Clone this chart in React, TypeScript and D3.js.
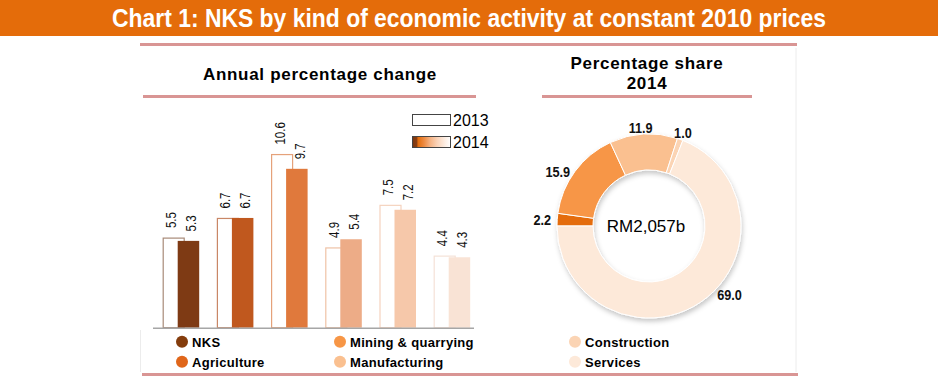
import React from 'react';
import * as d3 from 'd3';

// ---------- data ----------
const categories = ["NKS", "Agriculture", "Mining & quarrying", "Manufacturing", "Construction", "Services"];
const values2013 = [5.5, 6.7, 10.6, 4.9, 7.5, 4.4];
const values2014 = [5.3, 6.7, 9.7, 5.4, 7.2, 4.3];
const years = ["2013", "2014"];
const barColors2014 = ["#7E3A14", "#C0581E", "#E0793C", "#EDAC87", "#F6C8AA", "#F9E3D5"];
const outline2013 = ["#A88A78", "#C98766", "#E5A27A", "#EFC2A6", "#F5D3BE", "#F5E2D7"];
const legendColors = ["#843C0C", "#E0661A", "#F79646", "#FAC090", "#FBD4B4", "#FDE9D9"];

const shareLabels = ["Agriculture", "Mining & quarrying", "Manufacturing", "Construction", "Services"];
const shareValues = [2.2, 15.9, 11.9, 1.0, 69.0];
const shareColors = ["#E46C0A", "#F79646", "#FAC090", "#FBD4B4", "#FDE9D9"];
const totalLabel = "RM2,057b";

const chartTitle = "Chart 1: NKS by kind of economic activity at constant 2010 prices";
const leftTitle = "Annual percentage change";
const rightTitle = ["Percentage share", "2014"];

// ---------- layout ----------
const W = 938, H = 381;
const SANS = "'Liberation Sans', Arial, sans-serif";
const NARROW_SCALE = 0.82;
const PINK = "#D99594";
const baseline = 327.7;
const pxPerUnit = 16.38;
const barW = 22;
const barOffset = 15;
const labelNudges: [number, number][] = [[-1, 1], [-6, 9], [-2, 7], [-2, 6], [21, -19]];
const legendCols = [182, 340, 575];
const legendRows = [341.7, 361.7];

export default function App() {
  const x = d3.scaleBand<string>().domain(categories).range([153.5, 478.7]).paddingInner(0).paddingOuter(0);
  const y = d3.scaleLinear().domain([0, 11]).range([baseline, baseline - 11 * pxPerUnit]);

  const cx = 649, cy = 226, rOuter = 92, rInner = 56;
  const pie = d3.pie<number>().sort(null).startAngle(-Math.PI / 2).endAngle(1.5 * Math.PI);
  const arcs = pie(shareValues);
  const arc = d3.arc<d3.PieArcDatum<number>>().innerRadius(rInner).outerRadius(rOuter);
  const labelArc = d3.arc<d3.PieArcDatum<number>>().innerRadius(106).outerRadius(106);

  const b13 = (i: number) => (x(categories[i]) as number) + 9.2;
  const b14 = (i: number) => b13(i) + barOffset;

  return (
    <svg width={W} height={H} style={{ position: 'absolute', left: 0, top: 0, background: '#fff' }}>
      <defs>
        <linearGradient id="g2014" x1="0" x2="1" y1="0" y2="0">
          <stop offset="0" stopColor="#7A3510" />
          <stop offset="0.12" stopColor="#8A3F12" />
          <stop offset="0.14" stopColor="#E36C0A" />
          <stop offset="0.3" stopColor="#EE8A40" />
          <stop offset="0.45" stopColor="#F5B07F" />
          <stop offset="0.65" stopColor="#FAD3B8" />
          <stop offset="0.85" stopColor="#FDEDE2" />
          <stop offset="1" stopColor="#FFFFFF" />
        </linearGradient>
        <filter id="shadow" x="-20%" y="-20%" width="140%" height="140%">
          <feDropShadow dx="1" dy="3" stdDeviation="2.5" floodColor="#000" floodOpacity="0.22" />
        </filter>
      </defs>

      {/* title bar */}
      <rect x={0} y={0} width={W} height={36} fill="#E46C0A" />
      <text x={112} y={27} fill="#fff" fontFamily={SANS} fontWeight="bold" fontSize={26}
        textLength={714} lengthAdjust="spacingAndGlyphs">
        {chartTitle}
      </text>
      <rect x={140} y={43} width={657} height={3} fill={PINK} />

      {/* panel lines */}
      <line x1={796} x2={796} y1={48} y2={372} stroke="#ECECEC" strokeWidth={1} />
      <line x1={140.5} x2={140.5} y1={330} y2={372} stroke="#ECECEC" strokeWidth={1} />
      <rect x={142} y={373} width={656} height={3} fill={PINK} />

      {/* left title */}
      <text x={320} y={80} textAnchor="middle" fontFamily={SANS} fontWeight="bold" fontSize={17} letterSpacing={0.7} fill="#000">
        {leftTitle}
      </text>
      <rect x={143} y={95} width={333} height={3} fill={PINK} />

      {/* right title */}
      <text x={647} y={69} textAnchor="middle" fontFamily={SANS} fontWeight="bold" fontSize={17} letterSpacing={0.7} fill="#000">
        {rightTitle[0]}
      </text>
      <text x={647} y={89} textAnchor="middle" fontFamily={SANS} fontWeight="bold" fontSize={17} letterSpacing={0.7} fill="#000">
        {rightTitle[1]}
      </text>
      <rect x={542} y={95} width={210} height={3} fill={PINK} />

      {/* bars 2013 */}
      {values2013.map((v, i) => (
        <rect key={'a' + i} x={b13(i) + 0.5} y={y(v) + 0.5} width={barW - 1} height={y(0) - y(v) - 0.5}
          fill="#fff" stroke={outline2013[i]} strokeWidth={1.2} />
      ))}
      {/* bars 2014 */}
      {values2014.map((v, i) => (
        <rect key={'b' + i} x={b14(i)} y={y(v)} width={barW - 0.5} height={y(0) - y(v)} fill={barColors2014[i]} />
      ))}
      {/* axis */}
      <line x1={153} x2={474} y1={baseline + 0.5} y2={baseline + 0.5} stroke="#A6A6A6" strokeWidth={1.5} />

      {/* value labels */}
      {values2013.map((v, i) => {
        const lx = b13(i) + barW / 2 - 2.5 + 5;
        const ly = y(v) - 9.5;
        return (
          <text key={'la' + i} transform={`translate(${lx},${ly}) rotate(-90) scale(${NARROW_SCALE},1)`}
            fontFamily={SANS} fontSize={14} fill="#111">
            {v.toFixed(1)}
          </text>
        );
      })}
      {values2014.map((v, i) => {
        const lx = b14(i) + barW / 2 + 2.5 + 5;
        const ly = y(v) - 9.5;
        return (
          <text key={'lb' + i} transform={`translate(${lx},${ly}) rotate(-90) scale(${NARROW_SCALE},1)`}
            fontFamily={SANS} fontSize={14} fill="#111">
            {v.toFixed(1)}
          </text>
        );
      })}

      {/* year legend */}
      <rect x={412.5} y={114.5} width={38} height={11} fill="#fff" stroke="#444" strokeWidth={1} />
      <rect x={412.5} y={136.5} width={38} height={11} fill="url(#g2014)" stroke="#444" strokeWidth={1} />
      <text x={453} y={125.5} fontFamily={SANS} fontSize={16} fill="#000">{years[0]}</text>
      <text x={453} y={147.5} fontFamily={SANS} fontSize={16} fill="#000">{years[1]}</text>

      {/* donut */}
      <g transform={`translate(${cx},${cy})`}>
        <g filter="url(#shadow)">
          {arcs.map((a, i) => (
            <path key={'s' + i} d={arc(a) as string} fill={shareColors[i]} stroke="#fff" strokeWidth={1} />
          ))}
        </g>
        {arcs.map((a, i) => {
          const [px, py] = labelArc.centroid(a);
          return (
            <text key={'sl' + i}
              transform={`translate(${px + labelNudges[i][0]},${py + labelNudges[i][1]}) scale(${NARROW_SCALE},1)`}
              dy="0.35em" textAnchor="middle"
              fontFamily={SANS} fontWeight="bold" fontSize={15.5} fill="#111">
              {shareValues[i].toFixed(1)}
            </text>
          );
        })}
        <text x={-3} y={6} textAnchor="middle" fontFamily={SANS} fontSize={17} fill="#000">{totalLabel}</text>
      </g>

      {/* category legend */}
      {categories.map((c, i) => {
        const col = Math.floor(i / 2), row = i % 2;
        const lx = legendCols[col], ly = legendRows[row];
        return (
          <g key={'lg' + i}>
            <circle cx={lx} cy={ly} r={6} fill={legendColors[i]} />
            <text x={lx + 10} y={ly + 4.8} fontFamily={SANS} fontWeight="bold" fontSize={13} letterSpacing={0.3} fill="#000">{c}</text>
          </g>
        );
      })}
    </svg>
  );
}
